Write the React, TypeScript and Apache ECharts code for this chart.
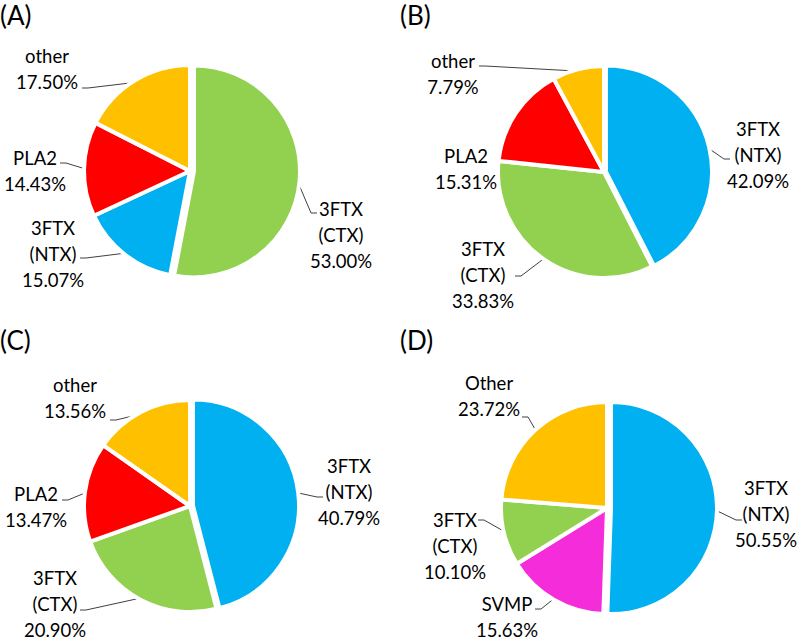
import React, { useEffect, useRef } from 'react';
import * as echarts from 'echarts';

// ---- data ----
const panelTitles = ['(A)', '(B)', '(C)', '(D)'];

const namesA = ['3FTX\n(CTX)', '3FTX\n(NTX)', 'PLA2', 'other'];
const valuesA = [53.0, 15.07, 14.43, 17.5];

const namesB = ['3FTX\n(NTX)', '3FTX\n(CTX)', 'PLA2', 'other'];
const valuesB = [42.09, 33.83, 15.31, 7.79];

const namesC = ['3FTX\n(NTX)', '3FTX\n(CTX)', 'PLA2', 'other'];
const valuesC = [40.79, 20.9, 13.47, 13.56];

const namesD = ['3FTX\n(NTX)', 'SVMP', '3FTX\n(CTX)', 'Other'];
const valuesD = [50.55, 15.63, 10.1, 23.72];

// ---- styles ----
const BLUE = '#00B0F0';
const GREEN = '#92D050';
const RED = '#FF0000';
const ORANGE = '#FFC000';
const MAGENTA = '#F52CDA';
const CLEAR = 'rgba(0,0,0,0)';

const colorsA = [GREEN, BLUE, RED, ORANGE];
const colorsB = [BLUE, GREEN, RED, ORANGE];
const colorsC = [BLUE, GREEN, RED, ORANGE];
const colorsD = [BLUE, MAGENTA, GREEN, ORANGE];

// ---- layout ----
const RADIUS = 106;
const BORDER = 4;
const VIS_R = RADIUS - BORDER / 2;
const offsets = [4, 2, 3, 4];
const centers = [
  [190, 171],
  [604, 172],
  [190, 506],
  [607, 508],
];
// label centre (dx, dy) relative to pie centre, leader end (lx, ly) relative to label centre
const labelLayoutsA = [
  { dx: 151, dy: 64, lx: -24, ly: -22, line: true },
  { dx: -137, dy: 83, lx: 27, ly: 4, line: true },
  { dx: -155, dy: 0, lx: 25, ly: -8, line: true },
  { dx: -143, dy: -102, lx: 35, ly: 19, line: true },
];
const labelLayoutsB = [
  { dx: 154, dy: -17, lx: -28, ly: 4, line: true },
  { dx: -121, dy: 103, lx: 32, ly: 1, line: true },
  { dx: -138, dy: -3, lx: 0, ly: 0, line: false },
  { dx: -151, dy: -98, lx: 26, ly: -8, line: true },
];
const labelLayoutsC = [
  { dx: 159, dy: -14, lx: -26, ly: 5, line: true },
  { dx: -135, dy: 98, lx: 25, ly: 6, line: true },
  { dx: -154, dy: 1, lx: 26, ly: -7, line: true },
  { dx: -115, dy: -108, lx: 35, ly: 22, line: true },
];
const labelLayoutsD = [
  { dx: 159, dy: 6, lx: -24, ly: 6, line: true },
  { dx: -100, dy: 109, lx: 28, ly: -8, line: true },
  { dx: -152, dy: 38, lx: 23, ly: -26, line: true },
  { dx: -118, dy: -112, lx: 33, ly: 21, line: true },
];

const panels = [
  { names: namesA, values: valuesA, colors: colorsA, labels: labelLayoutsA },
  { names: namesB, values: valuesB, colors: colorsB, labels: labelLayoutsB },
  { names: namesC, values: valuesC, colors: colorsC, labels: labelLayoutsC },
  { names: namesD, values: valuesD, colors: colorsD, labels: labelLayoutsD },
];

const titlePos = [
  [0, 1],
  [400, 1],
  [0, 326],
  [400, 326],
];

const FONT = 'Lato, "Open Sans", sans-serif';

function midAngle(values: number[], i: number) {
  const total = values.reduce((a, b) => a + b, 0);
  let acc = 0;
  for (let j = 0; j < i; j++) acc += values[j];
  return ((acc + values[i] / 2) / total) * Math.PI * 2;
}

function makeMainSeries(pi: number) {
  const p = panels[pi];
  const [cx, cy] = centers[pi];
  const off = offsets[pi];
  return {
    type: 'pie',
    center: [cx, cy],
    radius: RADIUS,
    startAngle: 90,
    clockwise: true,
    avoidLabelOverlap: false,
    silent: true,
    emphasis: { disabled: true },
    itemStyle: { borderColor: '#ffffff', borderWidth: BORDER },
    label: {
      show: true,
      position: 'outside',
      formatter: (q: any) => `${q.name}\n${Number(q.value).toFixed(2)}%`,
      fontFamily: FONT,
      fontSize: 18.5,
      lineHeight: 26,
      color: '#000000',
      align: 'center',
      bleedMargin: -1000,
    },
    labelLine: {
      show: true,
      length: 10,
      length2: 10,
      lineStyle: { color: '#404040', width: 1 },
    },
    labelLayout: (params: any) => {
      const i = params.dataIndex;
      const lay = p.labels[i];
      const x = cx + lay.dx;
      const y = cy + lay.dy;
      const mid = midAngle(p.values, i);
      let ox = cx;
      let oy = cy;
      if (i === 0) {
        ox += off * Math.sin(mid);
        oy -= off * Math.cos(mid);
      }
      const sx = ox + VIS_R * Math.sin(mid);
      const sy = oy - VIS_R * Math.cos(mid);
      const ex = x + lay.lx;
      const ey = y + lay.ly;
      const bx = lay.lx > 0 ? ex + 6 : ex - 6;
      return {
        x,
        y,
        align: 'center',
        verticalAlign: 'middle',
        labelLinePoints: [
          [sx, sy],
          [bx, ey],
          [ex, ey],
        ],
      };
    },
    data: p.values.map((v, i) => ({
      name: p.names[i],
      value: v,
      itemStyle:
        i === 0
          ? { color: CLEAR, borderWidth: 0 }
          : { color: p.colors[i] },
      labelLine: { show: p.labels[i].line },
    })),
  };
}

// the exploded first slice, drawn from the same values with its centre pushed out along its mid angle
function makeExplodedSeries(pi: number) {
  const p = panels[pi];
  const [cx, cy] = centers[pi];
  const off = offsets[pi];
  const mid = midAngle(p.values, 0);
  return {
    type: 'pie',
    center: [cx + off * Math.sin(mid), cy - off * Math.cos(mid)],
    radius: RADIUS,
    startAngle: 90,
    clockwise: true,
    silent: true,
    emphasis: { disabled: true },
    label: { show: false },
    labelLine: { show: false },
    itemStyle: { borderColor: '#ffffff', borderWidth: BORDER },
    data: p.values.map((v, i) => ({
      name: p.names[i],
      value: v,
      itemStyle:
        i === 0
          ? { color: p.colors[0] }
          : { color: CLEAR, borderWidth: 0 },
    })),
  };
}

export default function App() {
  const ref = useRef<HTMLDivElement>(null);
  useEffect(() => {
    if (!ref.current) return;
    const chart = echarts.init(ref.current, undefined, { renderer: 'svg' });
    const series: any[] = [];
    panels.forEach((_, i) => {
      series.push(makeMainSeries(i));
      series.push(makeExplodedSeries(i));
    });
    chart.setOption({
      animation: false,
      backgroundColor: '#ffffff',
      title: panelTitles.map((t, i) => ({
        text: t,
        left: titlePos[i][0],
        top: titlePos[i][1],
        padding: 0,
        textStyle: {
          fontFamily: FONT,
          fontSize: 26,
          lineHeight: 28,
          fontWeight: 'normal',
          color: '#000000',
        },
      })),
      series,
    });
    return () => chart.dispose();
  }, []);
  return (
    <div
      ref={ref}
      style={{ position: 'absolute', left: 0, top: 0, width: 798, height: 643 }}
    />
  );
}
